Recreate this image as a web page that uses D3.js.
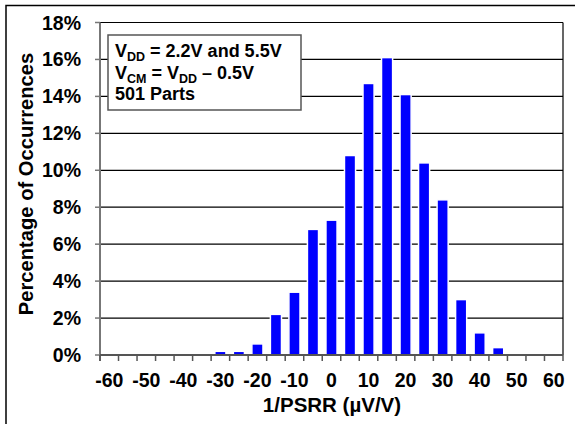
<!DOCTYPE html>
<html>
<head>
<meta charset="utf-8">
<script src="https://cdn.jsdelivr.net/npm/d3@7"></script>
<style>
  body { margin: 0; background: #fff; }
  svg text { font-family: "Liberation Sans", Arial, sans-serif; font-weight: bold; fill: #000; }
</style>
</head>
<body>
<div class="chart"></div>
<script>
// bins of 1/PSRR (uV/V), step 5
var bins = d3.range(-60, 61, 5);
// percentage of occurrences per bin
var percents = [
    0, 0, 0, 0, 0, 0,      // -60 .. -35
    0.2, 0.2, 0.6, 2.2,    // -30 .. -15
    3.4, 6.8, 7.3, 10.8,   // -10 .. 5
    14.7, 16.1, 14.1, 10.4,// 10 .. 25
    8.4, 3.0, 1.2, 0.4,    // 30 .. 45
    0, 0, 0                // 50 .. 60
];
var yTicks = [0, 2, 4, 6, 8, 10, 12, 14, 16, 18];
var xLabels = [-60, -50, -40, -30, -20, -10, 0, 10, 20, 30, 40, 50, 60];

var data = bins.map((b, i) => { return { bin: b, pct: percents[i] }; });

var W = 575, H = 424;
var pLeft = 100, pRight = 563, pTop = 22.5, pBottom = 355;

var svg = d3.select('.chart').append('svg')
    .attr('width', W)
    .attr('height', H);

// outer frame (only top and left edges visible)
svg.append('path')
    .attr('d', `M6,${H} V5.5 H${W}`)
    .attr('fill', 'none')
    .attr('stroke', '#000')
    .attr('stroke-width', 1.5);

var x = d3.scaleBand()
    .domain(bins)
    .range([pLeft, pRight])
    .paddingInner(0.4)
    .paddingOuter(0.2);
var y = d3.scaleLinear()
    .domain([0, 18])
    .range([pBottom, pTop]);

var step = x.step();
// category boundary of bin b
function edge(b) { return x(b) - step * 0.2; }

// gridlines
svg.append('g')
    .selectAll('line')
    .data(yTicks.filter((t) => { return t > 0; }))
    .enter().append('line')
    .attr('x1', pLeft).attr('x2', pRight)
    .attr('y1', (d) => { return y(d); })
    .attr('y2', (d) => { return y(d); })
    .attr('stroke', '#000')
    .attr('stroke-width', 1.2);

// right border
svg.append('line')
    .attr('x1', pRight).attr('x2', pRight)
    .attr('y1', pTop).attr('y2', pBottom)
    .attr('stroke', '#000')
    .attr('stroke-width', 1.2);

// bars
svg.append('g')
    .selectAll('rect')
    .data(data.filter((d) => { return d.pct > 0; }))
    .enter().append('rect')
    .attr('x', (d) => { return x(d.bin); })
    .attr('width', x.bandwidth())
    .attr('y', (d) => { return y(d.pct); })
    .attr('height', (d) => { return y(0) - y(d.pct); })
    .attr('fill', '#0000ff')
    .attr('stroke', '#fff')
    .attr('stroke-width', 1.5);

// y axis
svg.append('line')
    .attr('x1', pLeft).attr('x2', pLeft)
    .attr('y1', pTop).attr('y2', pBottom + 6)
    .attr('stroke', '#777')
    .attr('stroke-width', 2);
svg.append('g')
    .selectAll('line')
    .data(yTicks)
    .enter().append('line')
    .attr('x1', pLeft - 5).attr('x2', pLeft)
    .attr('y1', (d) => { return y(d); })
    .attr('y2', (d) => { return y(d); })
    .attr('stroke', '#777')
    .attr('stroke-width', 1.5);
svg.append('g')
    .selectAll('text')
    .data(yTicks)
    .enter().append('text')
    .attr('x', 81)
    .attr('y', (d) => { return y(d) + 7; })
    .attr('text-anchor', 'end')
    .style('font-size', '19.5px')
    .text((d) => { return d + '%'; });

// x axis
svg.append('line')
    .attr('x1', pLeft).attr('x2', pRight)
    .attr('y1', pBottom).attr('y2', pBottom)
    .attr('stroke', '#555')
    .attr('stroke-width', 2);
svg.append('g')
    .selectAll('line')
    .data(bins.concat([65]))
    .enter().append('line')
    .attr('x1', (d) => { return d > 60 ? pRight : edge(d); })
    .attr('x2', (d) => { return d > 60 ? pRight : edge(d); })
    .attr('y1', pBottom).attr('y2', pBottom + 6)
    .attr('stroke', '#555')
    .attr('stroke-width', 1.5);
svg.append('g')
    .selectAll('text')
    .data(xLabels)
    .enter().append('text')
    .attr('x', (d) => { return x(d) + x.bandwidth() / 2; })
    .attr('y', 386.5)
    .attr('text-anchor', 'middle')
    .style('font-size', '19.5px')
    .text((d) => { return d; });

// axis titles
svg.append('text')
    .attr('x', 332)
    .attr('y', 411.5)
    .attr('text-anchor', 'middle')
    .style('font-size', '20.5px')
    .text('1/PSRR (µV/V)');
svg.append('text')
    .attr('transform', 'translate(33, 184) rotate(-90)')
    .attr('text-anchor', 'middle')
    .style('font-size', '20.2px')
    .text('Percentage of Occurrences');

// legend box
svg.append('rect')
    .attr('x', 108).attr('y', 35)
    .attr('width', 193).attr('height', 75)
    .attr('fill', '#fff')
    .attr('stroke', '#555')
    .attr('stroke-width', 1.5);

var legend = svg.append('g').style('font-size', '18px');
var l1 = legend.append('text').attr('x', 115).attr('y', 57);
l1.append('tspan').text('V');
l1.append('tspan').attr('dy', 4).style('font-size', '12.5px').text('DD');
l1.append('tspan').attr('dy', -4).text(' = 2.2V and 5.5V');

var l2 = legend.append('text').attr('x', 115).attr('y', 78.5);
l2.append('tspan').text('V');
l2.append('tspan').attr('dy', 4).style('font-size', '12.5px').text('CM');
l2.append('tspan').attr('dy', -4).text(' = V');
l2.append('tspan').attr('dy', 4).style('font-size', '12.5px').text('DD');
l2.append('tspan').attr('dy', -4).text(' \u2013 0.5V');

legend.append('text').attr('x', 115).attr('y', 100).text('501 Parts');
</script>
</body>
</html>
